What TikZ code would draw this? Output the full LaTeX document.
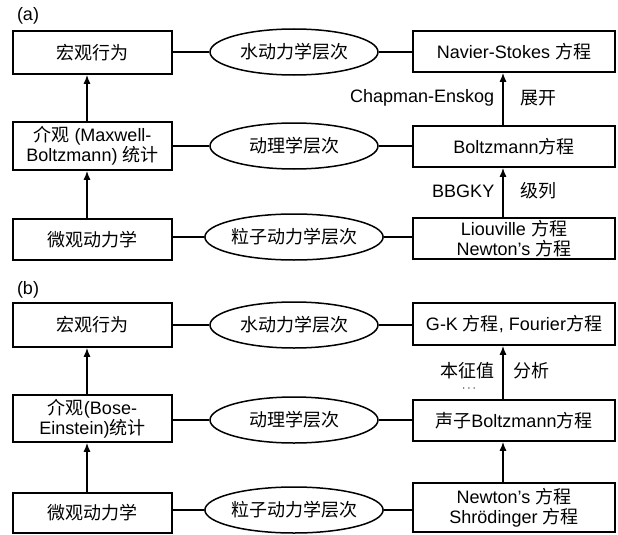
\documentclass[tikz,border=0pt]{standalone}
\usepackage{fontspec}
\setmainfont{Liberation Sans}
\newfontfamily\cjkfont{Noto Sans CJK SC}
\newcommand\zh[1]{{\cjkfont #1}}
\usetikzlibrary{arrows.meta,shapes.geometric}
\begin{document}
\begin{tikzpicture}[x=1pt,y=-1pt,line width=1.5pt,
  every node/.style={font=\fontsize{18}{20}\selectfont},
  lbox/.style={draw,rectangle,minimum width=159pt,inner sep=0pt,align=center},
  rbox/.style={draw,rectangle,minimum width=202pt,inner sep=0pt,align=center},
  ell/.style={draw,ellipse,minimum width=168pt,minimum height=46pt,inner sep=0pt},
  arr/.style={-{Latex[length=9pt,width=7pt]}},
  lab/.style={inner sep=0pt}]
\useasboundingbox (0,0) rectangle (618,535);
% ---------- panel (a)
\node[lab] (ta) at (28,16) {(a)};
\node[lbox,minimum height=43pt] (aL1) at (92.5,52.5) {\zh{宏观行为}};
\node[lbox,minimum height=48pt] (aL2) at (92.5,146) {\zh{介观} (Maxwell-\\Boltzmann) \zh{统计}};
\node[lbox,minimum height=41pt] (aL3) at (92.5,239.5) {\zh{微观动力学}};
\node[ell] (aE1) at (294,52) {\zh{水动力学层次}};
\node[ell] (aE2) at (294,146) {\zh{动理学层次}};
\node[ell] (aE3) at (294,237) {\zh{粒子动力学层次}};
\node[rbox,minimum height=41pt] (aR1) at (514,51.5) {Navier-Stokes \zh{方程}};
\node[rbox,minimum height=41pt] (aR2) at (514,146.5) {Boltzmann\zh{方程}};
\node[rbox,minimum height=41pt] (aR3) at (514,238.5) {Liouville \zh{方程}\\Newton’s \zh{方程}};
\coordinate (axL) at (87,0);
\coordinate (axR) at (503,0);
\draw[arr] (aL3.north -| axL) -- (aL2.south -| axL);
\draw[arr] (aL2.north -| axL) -- (aL1.south -| axL);
\draw[arr] (aR3.north -| axR) -- (aR2.south -| axR);
\draw[arr] (aR2.north -| axR) -- (aR1.south -| axR);
\draw (aL1.east |- aE1.west) -- (aE1.west);
\draw (aE1.east) -- (aR1.west |- aE1.east);
\draw (aL2.east |- aE2.west) -- (aE2.west);
\draw (aE2.east) -- (aR2.west |- aE2.east);
\draw (aL3.east |- aE3.west) -- (aE3.west);
\draw (aE3.east) -- (aR3.west |- aE3.east);
\node[lab,anchor=east] (ce) at (495,98) {Chapman-Enskog};
\node[lab,anchor=west] (zk) at (520,98) {\zh{展开}};
\node[lab,anchor=east] (bb) at (495,191) {BBGKY};
\node[lab,anchor=west] (jl) at (520,191) {\zh{级列}};
% ---------- panel (b)
\node[lab] (tb) at (28,290) {(b)};
\node[lbox,minimum height=44pt] (bL1) at (92.5,325) {\zh{宏观行为}};
\node[lbox,minimum height=47pt] (bL2) at (92.5,418.5) {\zh{介观}(Bose-\\Einstein)\zh{统计}};
\node[lbox,minimum height=40pt] (bL3) at (92.5,513) {\zh{微观动力学}};
\node[ell] (bE1) at (294,325) {\zh{水动力学层次}};
\node[ell] (bE2) at (294,420) {\zh{动理学层次}};
\node[ell] (bE3) at (294,510) {\zh{粒子动力学层次}};
\node[rbox,minimum height=42pt] (bR1) at (514,324) {G-K \zh{方程}, Fourier\zh{方程}};
\node[rbox,minimum height=41pt] (bR2) at (514,420.5) {\zh{声子}Boltzmann\zh{方程}};
\node[rbox,minimum height=49pt] (bR3) at (514,507.5) {Newton’s \zh{方程}\\Shrödinger \zh{方程}};
\draw[arr] (bL3.north -| axL) -- (bL2.south -| axL);
\draw[arr] (bL2.north -| axL) -- (bL1.south -| axL);
\draw[arr] (bR3.north -| axR) -- (bR2.south -| axR);
\draw[arr] (bR2.north -| axR) -- (bR1.south -| axR);
\draw (bL1.east |- bE1.west) -- (bE1.west);
\draw (bE1.east) -- (bR1.west |- bE1.east);
\draw (bL2.east |- bE2.west) -- (bE2.west);
\draw (bE2.east) -- (bR2.west |- bE2.east);
\draw (bL3.east |- bE3.west) -- (bE3.west);
\draw (bE3.east) -- (bR3.west |- bE3.east);
\node[lab,anchor=east] (bz) at (495,371) {\zh{本征值}};
\node[lab,font=\fontsize{12}{12}\selectfont] (dots) at (469,389) {$\cdots$};
\node[lab,anchor=west] (fx) at (513,371) {\zh{分析}};
\end{tikzpicture}
\end{document}
